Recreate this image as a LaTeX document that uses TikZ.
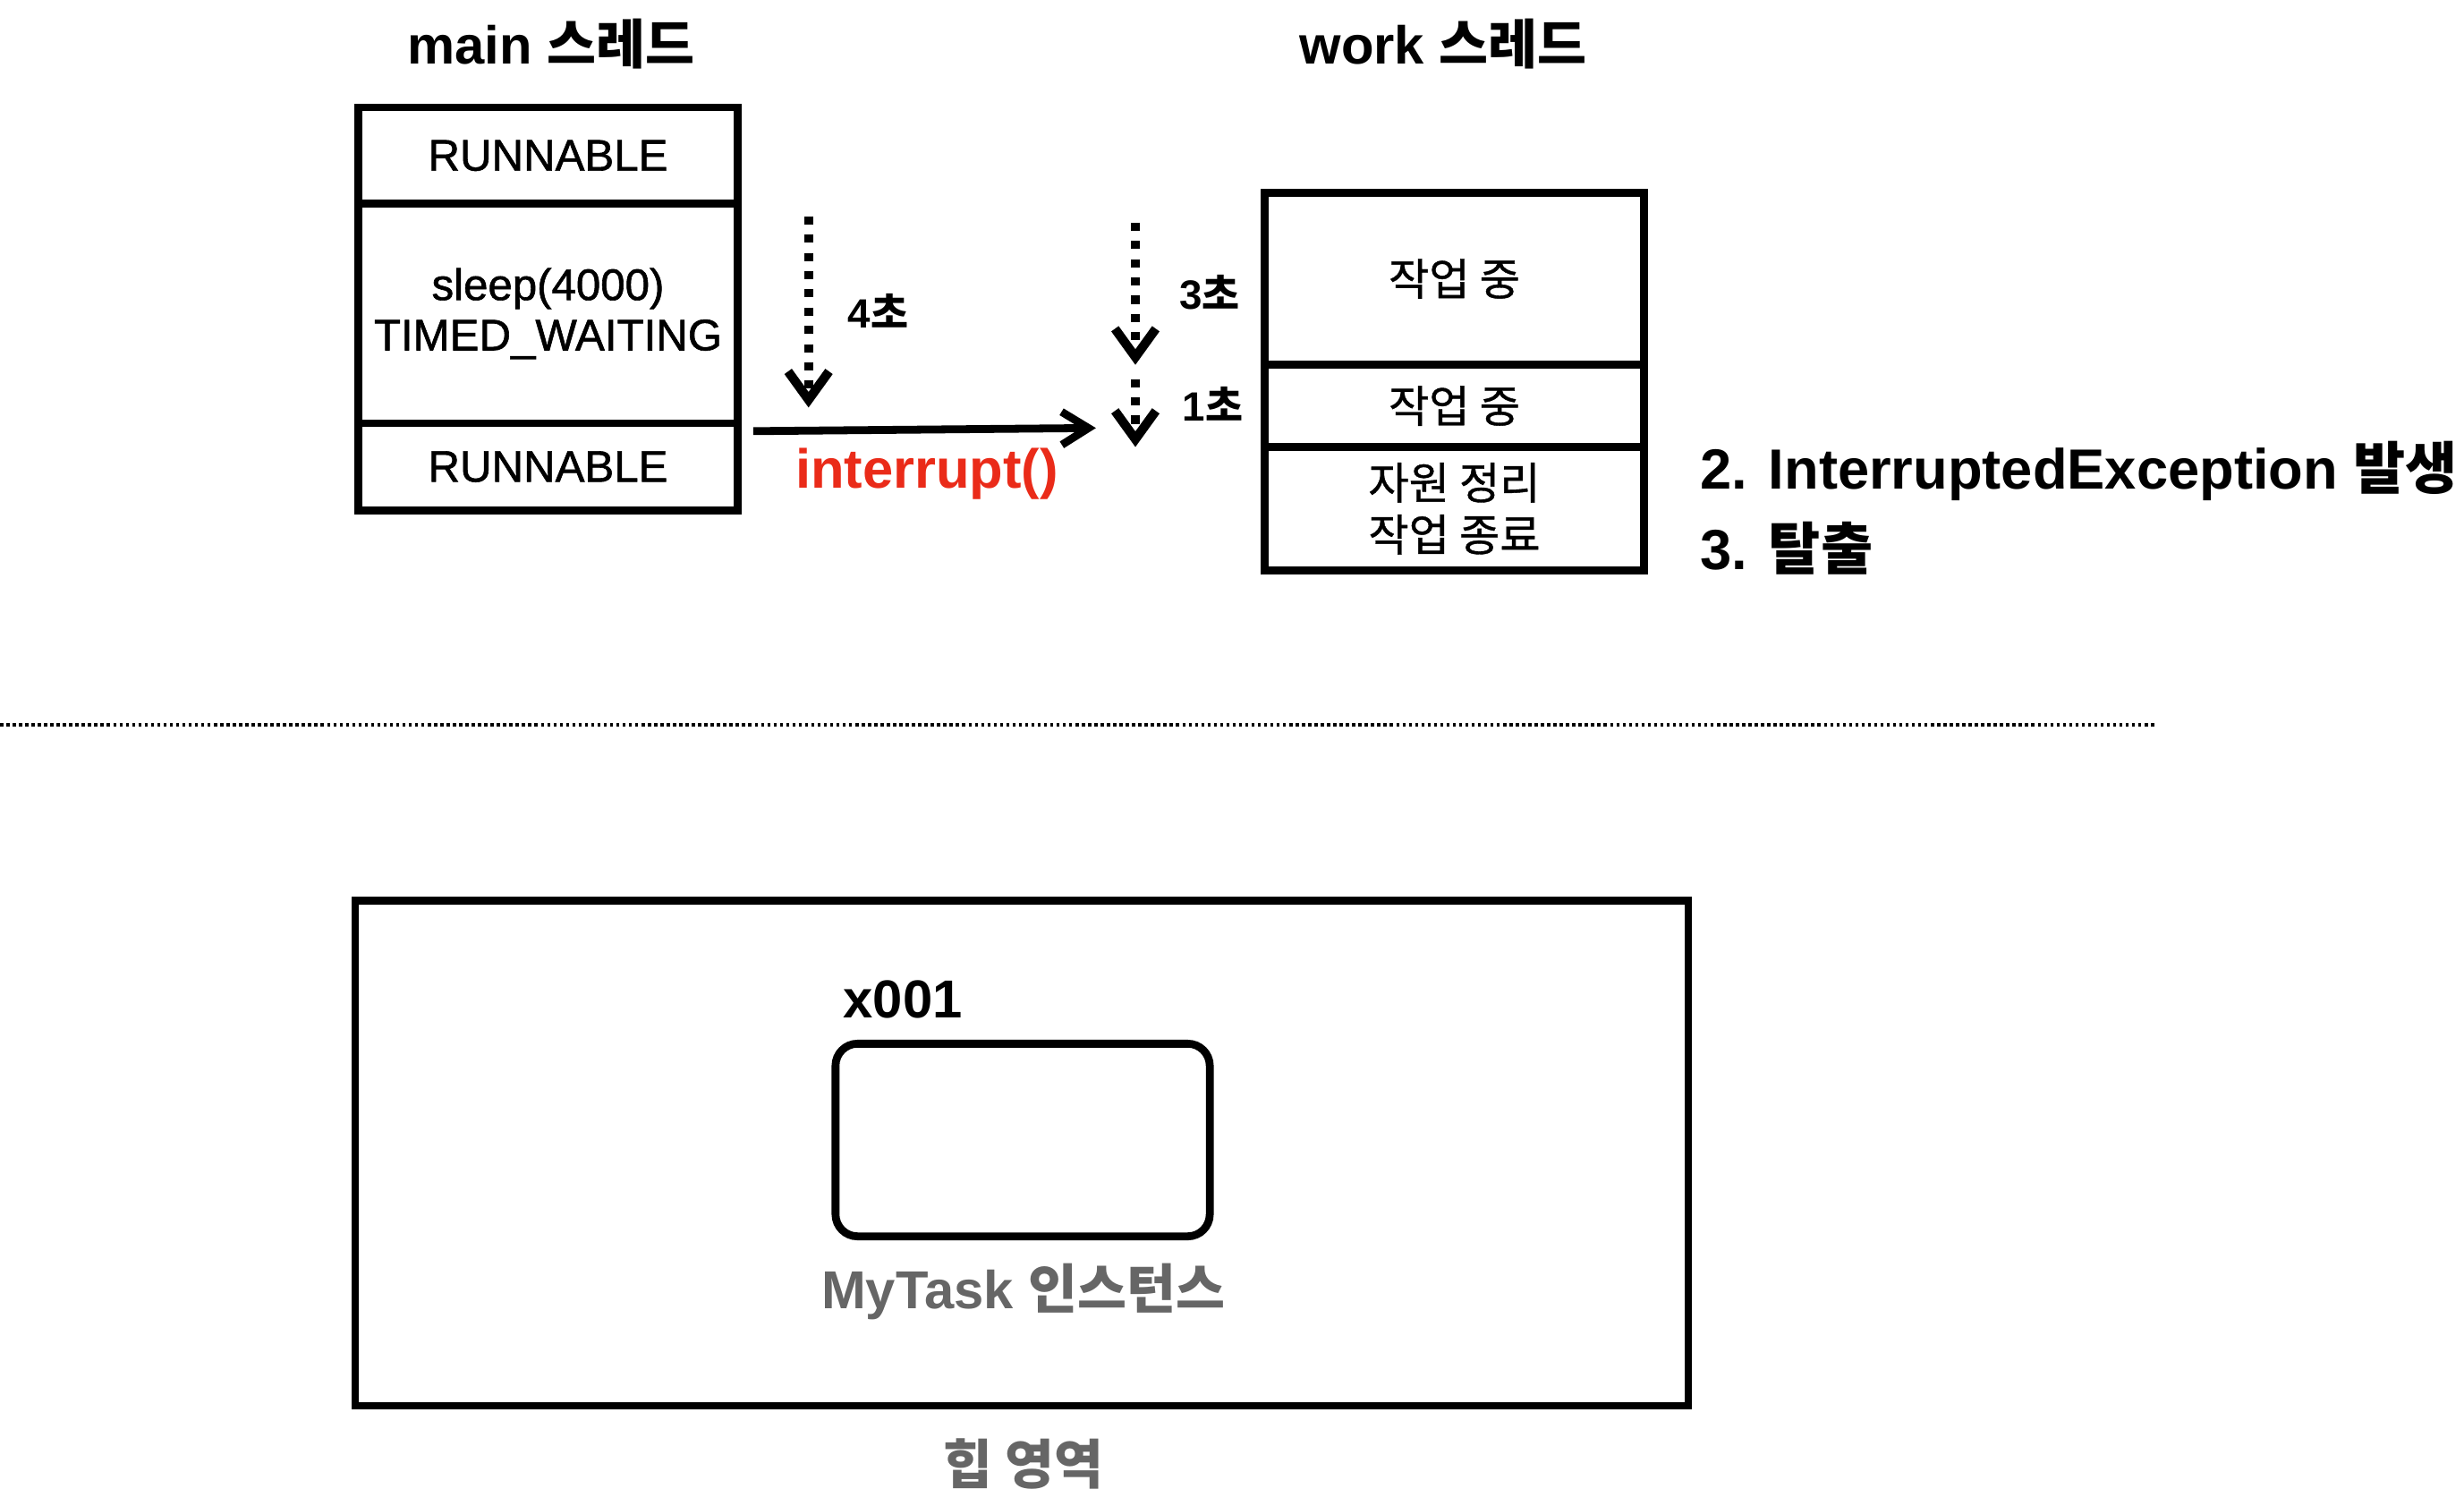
\documentclass[tikz,border=0pt]{standalone}
\usepackage{fontspec}
\setmainfont{Liberation Sans}
\newfontfamily\kr{Noto Sans CJK KR}
\newfontfamily\med{Liberation Sans}[FakeBold=1.2]
\newfontfamily\krmed{Noto Sans CJK KR}[FakeBold=0.8]
\usetikzlibrary{arrows.meta}
\definecolor{callred}{RGB}{234,43,25}
\definecolor{heapgray}{HTML}{666666}
\begin{document}
\begin{tikzpicture}
\tikzstyle{cell}=[rectangle,draw=black,line width=2.5pt,inner sep=0pt,align=center,anchor=center,font=\med\fontsize{14}{16}\selectfont]
\tikzstyle{title}=[inner sep=0pt,font=\bfseries\fontsize{17}{20}\selectfont]
\tikzstyle{time}=[inner sep=0pt,font=\bfseries\fontsize{13}{15}\selectfont]
\tikzstyle{note}=[inner sep=0pt,anchor=west,font=\bfseries\fontsize{18}{21}\selectfont]
\tikzstyle{wait}=[line width=2.9pt,dash pattern=on 2.6pt off 3.2pt,-{Straight Barb[length=9pt,width=13pt]}]
\tikzstyle{call}=[line width=2.5pt,-{Straight Barb[length=8.5pt,width=10.5pt]}]

\useasboundingbox (0,0) rectangle (27.54,-16.82);

% main thread
\node [title] at (6.16,-0.494) (mainTitle) {main {\kr 스레드}};
\node [cell,minimum width=4.236cm,minimum height=1.077cm] at (6.125,-1.739) (m1) {RUNNABLE};
\node [cell,minimum width=4.236cm,minimum height=2.453cm] at (6.125,-3.504) (m2) {sleep(4000)\\TIMED\_WAITING};
\node [cell,minimum width=4.236cm,minimum height=0.971cm] at (6.125,-5.216) (m3) {RUNNABLE};

% work thread
\node [title] at (16.132,-0.494) (workTitle) {work {\kr 스레드}};
\node [cell,minimum width=4.235cm,minimum height=1.924cm] at (16.255,-3.115) (w1) {\krmed 작업 중};
\node [cell,minimum width=4.235cm,minimum height=0.918cm] at (16.255,-4.536) (w2) {\krmed 작업 중};
\node [cell,minimum width=4.235cm,minimum height=1.377cm,font=\krmed\fontsize{14}{16.5}\selectfont] at (16.255,-5.683) (w3) {자원 정리\\작업 종료};

% timing
\coordinate (d1s) at (9.037,-2.418);
\coordinate (d1e) at (9.037,-4.554);
\coordinate (d2s) at (12.69,-2.489);
\coordinate (d2e) at (12.69,-4.077);
\coordinate (d3s) at (12.69,-4.236);
\coordinate (d3e) at (12.69,-4.995);
\draw [wait] (d1s) -- (d1e);
\draw [wait] (d2s) -- (d2e);
\draw [wait] (d3s) -- (d3e);
\node [time] at (9.813,-3.477) (t4) {4{\kr 초}};
\node [time] at (13.52,-3.265) (t3) {3{\kr 초}};
\node [time] at (13.555,-4.518) (t1) {1{\kr 초}};

% interrupt
\coordinate (is) at (8.419,-4.818);
\coordinate (ie) at (12.249,-4.783);
\draw [call] (is) -- (ie);
\node [inner sep=0pt,text=callred,font=\bfseries\fontsize{17.5}{20}\selectfont] at (10.36,-5.295) (intr) {interrupt()};

\node [note] at (19.0,-5.26) (n2) {2. InterruptedException {\kr 발생}};
\node [note] at (19.0,-6.125) (n3) {3. {\kr 탈출}};

% separator
\coordinate (sepL) at (0,-8.101);
\coordinate (sepR) at (24.092,-8.101);
\draw [line width=1pt,dash pattern=on 1pt off 1pt] (sepL) -- (sepR);

% heap
\node [rectangle,draw=black,line width=2.5pt,minimum width=14.9cm,minimum height=5.648cm] at (11.42,-12.885) (heap) {};
\node [rectangle,rounded corners=7pt,draw=black,line width=2.5pt,minimum width=4.183cm,minimum height=2.153cm] at (11.43,-12.74) (task) {};
\node [title,anchor=west] at (9.42,-11.172) (addr) {x001};
\node [title,text=heapgray] at (11.437,-14.437) (taskLabel) {MyTask {\kr 인스턴스}};
\node [title,text=heapgray] at (11.437,-16.362) (heapLabel) {\kr 힙 영역};
\end{tikzpicture}
\end{document}
